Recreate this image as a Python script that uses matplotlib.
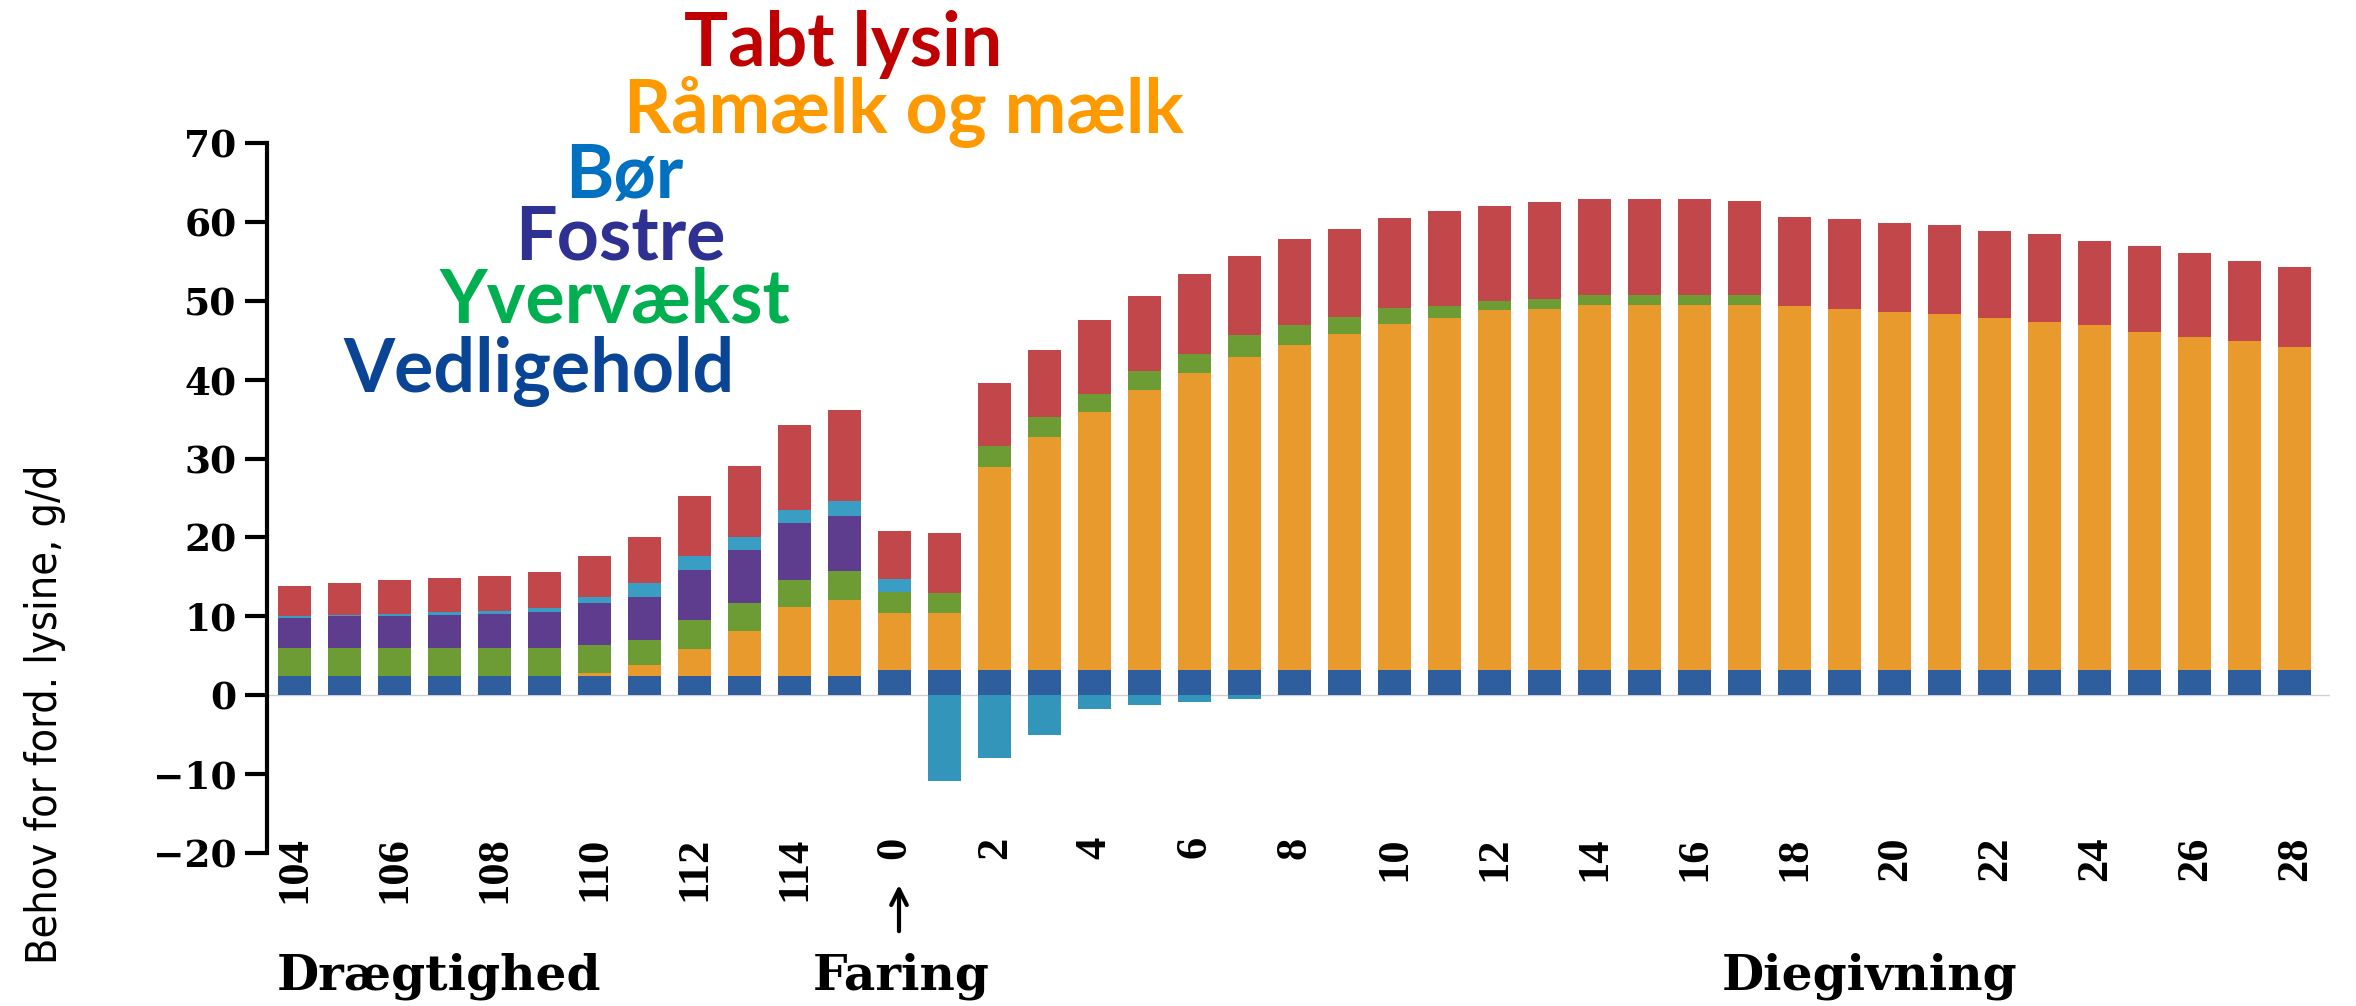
import numpy as np
import matplotlib
matplotlib.use("Agg")
import matplotlib.pyplot as plt

# ── data (g/d fordøjeligt lysin) ─────────────────────────────────────
days = ["104", "105", "106", "107", "108", "109", "110", "111", "112", "113", "114", "115",
        "0", "1", "2", "3", "4", "5", "6", "7", "8", "9", "10", "11", "12", "13", "14",
        "15", "16", "17", "18", "19", "20", "21", "22", "23", "24", "25", "26", "27", "28"]

vedligehold = [2.5, 2.5, 2.5, 2.5, 2.5, 2.5, 2.5, 2.5, 2.5, 2.5, 2.5, 2.5,
               3.2, 3.2, 3.2, 3.2, 3.2, 3.2, 3.2, 3.2, 3.2, 3.2, 3.2, 3.2, 3.2, 3.2, 3.2,
               3.2, 3.2, 3.2, 3.2, 3.2, 3.2, 3.2, 3.2, 3.2, 3.2, 3.2, 3.2, 3.2, 3.2]
raamaelk = [0, 0, 0, 0, 0, 0, 0.3, 1.3, 3.4, 5.6, 8.7, 9.6,
            7.2, 7.2, 25.7, 29.5, 32.7, 35.5, 37.7, 39.7, 41.2, 42.6, 43.9, 44.6, 45.6, 45.8, 46.3,
            46.3, 46.3, 46.3, 46.1, 45.8, 45.4, 45.1, 44.6, 44.1, 43.7, 42.9, 42.2, 41.7, 41.0]
yvervaekst = [3.5, 3.5, 3.5, 3.5, 3.5, 3.5, 3.6, 3.2, 3.6, 3.6, 3.4, 3.6,
              2.7, 2.5, 2.7, 2.6, 2.3, 2.4, 2.4, 2.7, 2.5, 2.2, 2.0, 1.5, 1.2, 1.2, 1.2,
              1.2, 1.2, 1.2, 0, 0, 0, 0, 0, 0, 0, 0, 0, 0, 0]
fostre = [3.8, 4.0, 4.0, 4.2, 4.3, 4.5, 5.3, 5.5, 6.4, 6.7, 7.2, 7.0,
          0, 0, 0, 0, 0, 0, 0, 0, 0, 0, 0, 0, 0, 0, 0,
          0, 0, 0, 0, 0, 0, 0, 0, 0, 0, 0, 0, 0, 0]
bor = [0.2, 0.2, 0.3, 0.3, 0.4, 0.6, 0.8, 1.7, 1.7, 1.7, 1.7, 1.9,
       1.6, -10.9, -8.0, -5.1, -1.8, -1.2, -0.9, -0.5, 0, 0, 0, 0, 0, 0, 0,
       0, 0, 0, 0, 0, 0, 0, 0, 0, 0, 0, 0, 0, 0]
tabt_lysin = [3.8, 4.0, 4.3, 4.3, 4.4, 4.5, 5.1, 5.9, 7.7, 8.9, 10.8, 11.6,
              6.1, 7.7, 8.0, 8.5, 9.4, 9.5, 10.1, 10.1, 10.9, 11.1, 11.4, 12.1, 12.0, 12.3, 12.2,
              12.2, 12.2, 12.0, 11.3, 11.4, 11.3, 11.3, 11.1, 11.2, 10.7, 10.8, 10.6, 10.2, 10.1]

label_days = days[::2]
legend_names = ["Tabt lysin", "Råmælk og mælk", "Bør", "Fostre", "Yvervækst", "Vedligehold"]
phases = ["Drægtighed", "Faring", "Diegivning"]

# ── figure ───────────────────────────────────────────────────────────
W, H = 2356, 1006
fig = plt.figure(figsize=(W / 100, H / 100), dpi=100)
ax = fig.add_axes([267 / W, 1 - 853 / H, (2330 - 267) / W, (853 - 143) / H])

x = np.arange(len(days))
bw = 0.66
bor_arr = np.array(bor)
layers = [
    (np.array(vedligehold), "#2F5E9E"),
    (np.array(raamaelk), "#E99A2C"),
    (np.array(yvervaekst), "#6E9C34"),
    (np.array(fostre), "#5E3C8E"),
    (np.clip(bor_arr, 0, None), "#3A9EC4"),
    (np.array(tabt_lysin), "#C1474A"),
]
bottom = np.zeros(len(days))
for vals, col in layers:
    ax.bar(x, vals, bw, bottom=bottom, color=col, linewidth=0)
    bottom += vals
ax.bar(x, np.clip(bor_arr, None, 0), bw, color="#3495BB", linewidth=0)

ax.axhline(0, color="#d0d0d0", lw=1.0, zorder=0)
ax.set_xlim(-0.55, 40.7)
ax.set_ylim(-20, 70)

ax.spines[["top", "right", "bottom"]].set_visible(False)
ax.spines["left"].set_linewidth(3)
ax.set_yticks(np.arange(-20, 71, 10))
ax.tick_params(axis="y", length=16, width=3, pad=6)
for t in ax.get_yticklabels():
    t.set_fontfamily("DejaVu Serif")
    t.set_fontweight("bold")
    t.set_fontsize(27)

ax.set_xticks(x[::2])
ax.set_xticklabels(label_days, rotation=90, family="Liberation Serif",
                   fontweight="bold", fontsize=32, va="top")
ax.tick_params(axis="x", length=0, pad=-12)

fig.text(45 / W, 1 - 714 / H, "Behov for ford. lysine, g/d", rotation=90,
         family="DejaVu Sans", stretch="condensed", fontsize=31,
         ha="center", va="center")

# legend as coloured words (stacked like in the slide)
leg_cols = ["#C00000", "#FF9900", "#0070C0", "#2E3192", "#00B050", "#0A4595"]
leg_pos = [(684, 66), (624, 133), (565, 198), (515, 259), (440, 323), (343, 392)]
for name, col, (px, py) in zip(legend_names, leg_cols, leg_pos):
    fig.text(px / W, 1 - py / H, name, color=col, family=["Lato", "DejaVu Sans"],
             fontweight="bold", fontsize=53, ha="left", va="baseline")

# phase labels
for name, px in zip(phases, [439, 901, 1870]):
    fig.text(px / W, 1 - 990 / H, name, family="DejaVu Serif", fontweight="bold",
             fontsize=35, ha="center", va="baseline")
ax.annotate("", xy=(899, H - 882), xytext=(899, H - 934), xycoords="figure pixels",
            textcoords="figure pixels",
            arrowprops=dict(arrowstyle="->", lw=3, color="black", mutation_scale=28))

fig.savefig("out.png", dpi=100)
